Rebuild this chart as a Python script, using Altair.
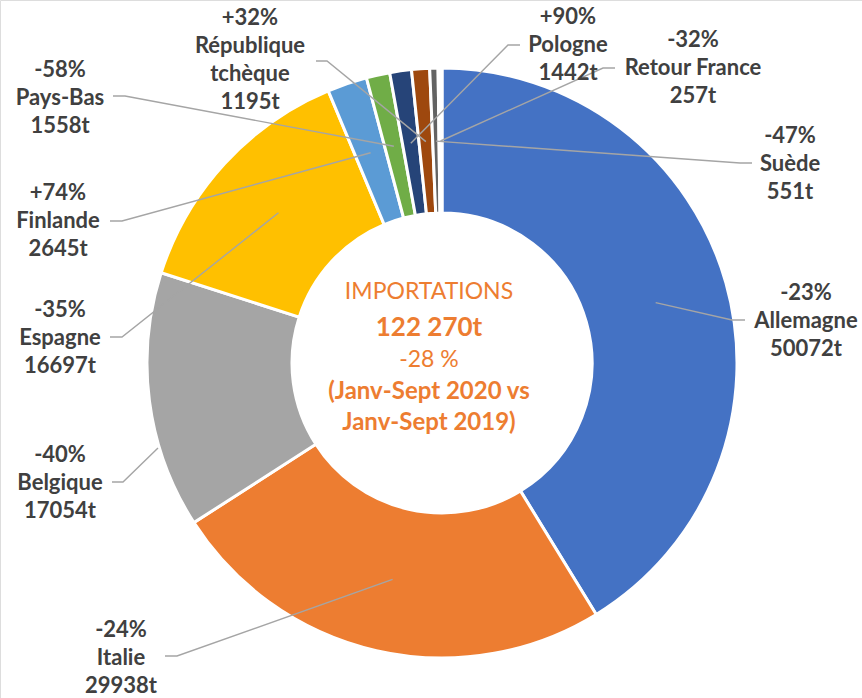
import math
import altair as alt
import pandas as pd

# ---- data ----
categories = ["Allemagne", "Italie", "Belgique", "Espagne", "Finlande", "Pays-Bas",
              "Pologne", "République tchèque", "Suède", "Retour France"]
tonnes = [50072, 29938, 17054, 16697, 2645, 1558, 1442, 1195, 551, 257]
changes = ["-23%", "-24%", "-40%", "-35%", "+74%", "-58%", "+90%", "+32%", "-47%", "-32%"]
name_lines = [["Allemagne"], ["Italie"], ["Belgique"], ["Espagne"], ["Finlande"], ["Pays-Bas"],
              ["Pologne"], ["République", "tchèque"], ["Suède"], ["Retour France"]]
colors = ["#4472C4", "#ED7D31", "#A5A5A5", "#FFC000", "#5B9BD5", "#70AD47",
          "#264478", "#9E480E", "#636363", "#FFFFFF"]
center_lines = ["IMPORTATIONS", "122 270t", "-28 %", "(Janv-Sept 2020 vs", "Janv-Sept 2019)"]
center_style = ["reg", "big", "reg", "bold", "bold"]

# ---- layout (pixels) ----
W, H = 862, 698
CX, CY = 442, 363
R_OUT, R_IN = 295, 150
R_TIP = 222
LINE_H = 28
label_anchor = {
    "Allemagne": (806, 293), "Italie": (121, 630), "Belgique": (60, 455),
    "Espagne": (60, 310), "Finlande": (58, 193), "Pays-Bas": (60, 70),
    "Pologne": (568, 17), "République tchèque": (250, 18), "Suède": (790, 136),
    "Retour France": (693, 40),
}
leader_start = {
    "Allemagne": [(745, 320), (732, 320)], "Italie": [(165, 656), (177, 656)],
    "Belgique": [(112, 482), (123, 482)], "Espagne": [(110, 337), (122, 337)],
    "Finlande": [(110, 221), (122, 221)], "Pays-Bas": [(113, 96), (125, 96)],
    "Pologne": [(520, 45), (508, 45)], "République tchèque": [(316, 61), (327, 61)],
    "Suède": [(752, 163), (740, 163)], "Retour France": [(615, 68), (603, 68)],
}
tip_override = {"Belgique": (158, 448)}

# ---- tables ----
arc_df = pd.DataFrame({"cat": categories, "value": tonnes, "order": range(len(categories))})

total = sum(tonnes)
label_rows, leader_rows = [], []
cum = 0
for i, c in enumerate(categories):
    mid = (cum + tonnes[i] / 2) / total * 2 * math.pi
    cum += tonnes[i]
    lines = [changes[i]] + name_lines[i] + [f"{tonnes[i]}t"]
    ax, ay = label_anchor[c]
    for j, t in enumerate(lines):
        label_rows.append({"cat": c, "text": t, "x": ax, "y": ay + j * LINE_H})
    tip = tip_override.get(c, (CX + R_TIP * math.sin(mid), CY - R_TIP * math.cos(mid)))
    pts = leader_start[c] + [tip]
    for k, (px, py) in enumerate(pts):
        leader_rows.append({"cat": c, "k": k, "x": px, "y": py})
label_df = pd.DataFrame(label_rows)
leader_df = pd.DataFrame(leader_rows)

center_y = [292, 328, 360, 392, 423]
center_df = pd.DataFrame({"text": center_lines, "style": center_style, "y": center_y, "x": [429] * 5})

xs = alt.Scale(domain=[0, W], range=[0, W], nice=False, zero=False)
ys = alt.Scale(domain=[0, H], range=[0, H], nice=False, zero=False)
X = alt.X("x:Q", scale=xs, axis=None)
Y = alt.Y("y:Q", scale=ys, axis=None)

arcs = alt.Chart(arc_df).mark_arc(radius=R_OUT, radius2=R_IN, stroke="white", strokeWidth=3).encode(
    theta=alt.Theta("value:Q", stack=True),
    order=alt.Order("order:Q"),
    color=alt.Color("cat:N", scale=alt.Scale(domain=categories, range=colors), legend=None),
    x=alt.value(CX), y=alt.value(CY),
)

leaders = alt.Chart(leader_df).mark_line(color="#A5A5A5", strokeWidth=1.4).encode(
    x=X, y=Y, detail="cat:N", order="k:Q",
)

labels = alt.Chart(label_df).mark_text(font="Lato", fontWeight="bold", fontSize=22,
                                       color="#404040", align="center", baseline="middle").encode(
    x=X, y=Y, text="text:N",
)

def center_layer(style, size, weight):
    return alt.Chart(center_df).transform_filter(f"datum.style == '{style}'").mark_text(
        font="Lato", fontSize=size, fontWeight=weight, color="#ED7D31",
        align="center", baseline="middle").encode(x=X, y=Y, text="text:N")

chart = alt.layer(
    arcs, leaders, labels,
    center_layer("reg", 23, "normal"),
    center_layer("big", 26, "bold"),
    center_layer("bold", 24, "bold"),
).properties(width=W, height=H, autosize="none", padding=0
).configure_view(stroke=None).configure(background="white")

chart.save("out.html", embed_options={"renderer": "svg", "actions": False})
